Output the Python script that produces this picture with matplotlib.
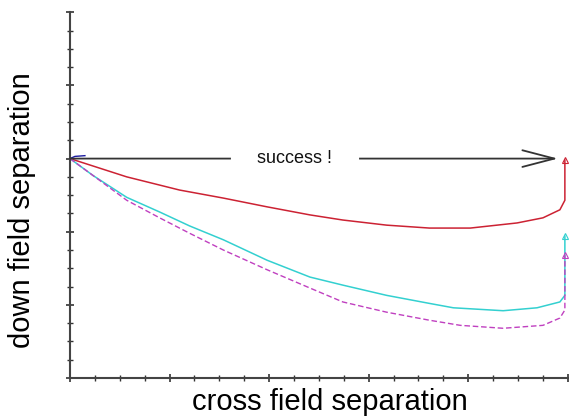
import matplotlib
matplotlib.use("Agg")
import matplotlib.pyplot as plt
from matplotlib.ticker import MultipleLocator

plt.rcParams['font.family'] = ['Liberation Sans', 'DejaVu Sans']

# Data
red_x = [0.0, 0.57, 1.10, 1.54, 1.98, 2.41, 2.74, 3.18, 3.61, 4.02, 4.49, 4.75, 4.92, 4.97, 4.97]
red_y = [3.0, 2.75, 2.57, 2.46, 2.34, 2.23, 2.16, 2.09, 2.05, 2.05, 2.12, 2.19, 2.30, 2.43, 2.98]

cyan_x = [0.0, 0.23, 0.57, 0.90, 1.20, 1.54, 1.98, 2.41, 2.74, 3.18, 3.61, 3.85, 4.35, 4.69, 4.92, 4.97, 4.97]
cyan_y = [3.0, 2.77, 2.47, 2.27, 2.08, 1.89, 1.61, 1.38, 1.27, 1.13, 1.02, 0.96, 0.92, 0.96, 1.04, 1.13, 1.94]

mag_x = [0.0, 0.27, 0.57, 0.90, 1.20, 1.54, 1.98, 2.41, 2.74, 3.18, 3.61, 3.92, 4.35, 4.75, 4.92, 4.97, 4.97]
mag_y = [3.0, 2.73, 2.43, 2.19, 1.98, 1.75, 1.48, 1.23, 1.04, 0.90, 0.79, 0.72, 0.68, 0.72, 0.82, 0.93, 1.68]

blue_x = [0.0, 0.05, 0.15]
blue_y = [3.0, 3.03, 3.04]

start_point = (0.0, 3.0)
arrow_end = (4.90, 3.0)
arrow_label = "success !"
label_x = 2.25
gap_x = [1.64, 2.88]

fig = plt.figure(figsize=(5.69, 4.17), dpi=100)
ax = fig.add_axes([0.123, 0.0935, 0.875, 0.877])

ax.plot(red_x, red_y, color='#cc2233', lw=1.1)
ax.plot(cyan_x, cyan_y, color='#33d0d0', lw=1.1)
ax.plot(mag_x, mag_y, color='#c040c0', lw=1.0, ls=(0, (4, 2)))
ax.plot(blue_x, blue_y, color='#1a1aa0', lw=1.0)

# end markers
ax.plot(red_x[-1], red_y[-1], marker='^', ms=4, mfc='none', mec='#cc2233', mew=0.8)
ax.plot(cyan_x[-1], cyan_y[-1], marker='^', ms=4, mfc='none', mec='#33d0d0', mew=0.8)
ax.plot(mag_x[-1], mag_y[-1], marker='^', ms=4, mfc='none', mec='#c040c0', mew=0.8)

ax.annotate('', xy=arrow_end, xytext=start_point,
            arrowprops=dict(arrowstyle='->,head_length=1.15,head_width=0.3',
                            lw=1.3, color='#333333', mutation_scale=20,
                            shrinkA=0, shrinkB=0))
# white gap around label
ax.plot(gap_x, [3.0, 3.0], color='white', lw=3, zorder=3)
ax.text(label_x, 3.0, arrow_label, ha='center', va='center', fontsize=13,
        color='#111111', zorder=4)

ax.set_xlim(0, 5)
ax.set_ylim(0, 5)
ax.xaxis.set_major_locator(MultipleLocator(1))
ax.xaxis.set_minor_locator(MultipleLocator(0.25))
ax.yaxis.set_major_locator(MultipleLocator(1))
ax.yaxis.set_minor_locator(MultipleLocator(0.25))
ax.tick_params(which='both', direction='inout', labelbottom=False, labelleft=False,
               color='#333333')
ax.tick_params(which='major', length=6, width=1.2)
ax.tick_params(which='minor', length=5, width=1.0)

for s in ['top', 'right']:
    ax.spines[s].set_visible(False)
for s in ['left', 'bottom']:
    ax.spines[s].set_color('#444444')
    ax.spines[s].set_linewidth(1.5)

ax.set_xlabel('cross field separation', fontsize=21)
ax.set_ylabel('down field separation', fontsize=21)
ax.xaxis.set_label_coords(0.522, -0.027)
ax.yaxis.set_label_coords(-0.068, 0.459)

fig.savefig('out.png', dpi=100)
